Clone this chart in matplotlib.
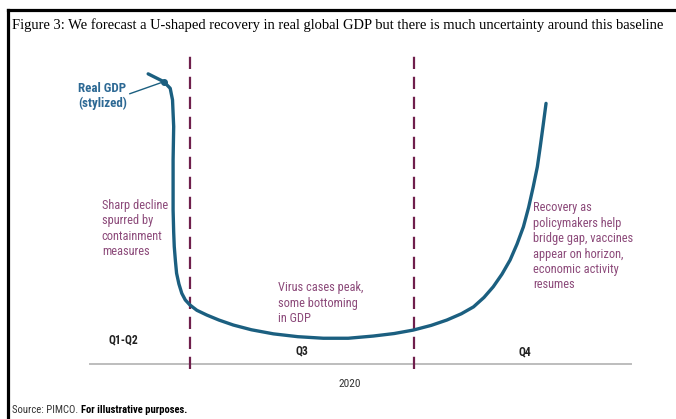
import matplotlib.pyplot as plt
from matplotlib.lines import Line2D

# stylized real GDP path through 2020 (time index 0-100, GDP index 0-100)
t = [15.2, 17.9, 19.0, 19.4, 19.6, 19.5, 19.5, 19.6, 19.7, 19.9, 20.1, 20.5,
     21.0, 21.6, 22.4, 23.6, 25.3, 27.4, 29.9, 33.0, 36.8, 41.0, 45.4, 49.7,
     54.0, 57.6, 60.9, 64.0, 66.7, 69.2, 71.3, 73.1, 74.7, 76.2, 77.6, 78.8,
     79.9, 80.8, 81.6, 82.3, 82.8, 83.3, 83.8]
gdp = [92.4, 89.9, 87.8, 84.1, 75.6, 65.0, 49.0, 42.0, 37.4, 32.8, 28.9, 25.5,
       22.5, 20.4, 18.8, 17.1, 15.6, 14.0, 12.4, 10.9, 9.6, 8.7, 8.2, 8.2,
       8.9, 9.7, 10.8, 12.3, 14.0, 16.0, 18.2, 21.2, 24.6, 28.6, 33.1, 38.2,
       43.7, 49.9, 56.5, 62.8, 69.2, 76.0, 83.0]

quarter_breaks = [22.4, 61.0]
quarter_labels = ['Q1-Q2', 'Q3', 'Q4']
quarter_label_pos = [(10.9, 7.6), (41.7, 4.1), (80.2, 3.8)]

notes = [
    'Sharp decline\nspurred by\ncontainment\nmeasures',
    'Virus cases peak,\nsome bottoming\nin GDP',
    'Recovery as\npolicymakers help\nbridge gap, vaccines\nappear on horizon,\neconomic activity\nresumes',
]
note_pos = [(7.2, 52.6), (37.6, 26.4), (81.6, 51.8)]

title = ('Figure 3: We forecast a U-shaped recovery in real global GDP '
         'but there is much uncertainty around this baseline')

COND = ['Roboto Condensed', 'Liberation Sans Narrow', 'DejaVu Sans']
BLUE = '#1b5f80'
MAUVE = '#8c4a7a'
MAROON = '#6f1f4c'

W, H = 676, 419
fig = plt.figure(figsize=(W / 100, H / 100), dpi=100)
fig.patch.set_facecolor('white')
ax = fig.add_axes([60 / W, 55 / H, 580 / W, 314 / H])
ax.set_xlim(0, 100)
ax.set_ylim(0, 100)
ax.axis('off')

# baseline and quarter dividers
ax.plot([5.2, 98.4], [0, 0], color='#bdbdbd', lw=1.4, clip_on=False)
for xb in quarter_breaks:
    ax.plot([xb, xb], [-1.5, 99.4], color=MAROON, lw=1.6,
            dashes=(5.5, 3.5), clip_on=False)

ax.plot(t, gdp, color=BLUE, lw=2.4, solid_joinstyle='round',
        solid_capstyle='round', clip_on=False)
ax.plot(t[1], gdp[1], 'o', color=BLUE, ms=4, clip_on=False)
ax.annotate('Real GDP\n(stylized)', xy=(t[1], gdp[1]), xytext=(3.1, 85.3),
            ha='left', va='center', color='#2d6994', fontsize=9.4,
            fontweight='bold', family=COND, linespacing=1.15,
            arrowprops=dict(arrowstyle='-', color=BLUE, lw=1.0,
                            shrinkA=0, shrinkB=0, relpos=(1.0, 0.55)))

for txt, (x, y) in zip(notes, note_pos):
    ax.text(x, y, txt, ha='left', va='top', color=MAUVE, fontsize=8.9,
            family=COND, linespacing=1.24)

for lab, (x, y) in zip(quarter_labels, quarter_label_pos):
    ax.text(x, y, lab, ha='center', va='center', color='#222222',
            fontsize=8.4, fontweight='bold', family=COND)

ax.text(50, -6.4, '2020', ha='center', va='center', color='#333333',
        fontsize=8.2, family=COND, clip_on=False)

# title and frame
fig.text(12 / W, 1 - 25 / H, title, ha='left', va='center',
         family=['Liberation Serif', 'DejaVu Serif'], fontsize=10.45,
         color='black')
fig.add_artist(Line2D([8 / W, 8 / W], [0, 1 - 10 / H], color='black',
                      lw=2.3, transform=fig.transFigure))
fig.add_artist(Line2D([8 / W, 1], [1 - 10 / H, 1 - 10 / H], color='black',
                      lw=2.3, transform=fig.transFigure))

# source line: plain part then bold part
src = fig.text(12 / W, 1 - 410 / H, 'Source: PIMCO. ', ha='left',
               va='center', family=COND, fontsize=7.7, color='#333333')
fig.canvas.draw()
bb = src.get_window_extent()
fig.text(bb.x1 / W, 1 - 410 / H, 'For illustrative purposes.', ha='left',
         va='center', family=COND, fontsize=7.7, fontweight='bold',
         color='black')

fig.savefig('out.png', dpi=100)
